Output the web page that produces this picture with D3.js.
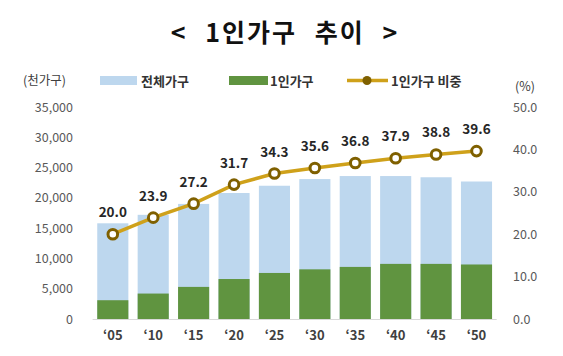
<!DOCTYPE html>
<html><head><meta charset="utf-8">
<script src="https://cdn.jsdelivr.net/npm/d3@7"></script>
<style>body{margin:0;background:#fff}svg{display:block}text{font-family:"Noto Sans CJK KR","Noto Sans",sans-serif}</style>
</head><body><svg id="c" width="563" height="356"></svg>
<script>
const years = ["‘05","‘10","‘15","‘20","‘25","‘30","‘35","‘40","‘45","‘50"];
const totalHouseholds = [15800,17200,19000,20800,22000,23100,23600,23600,23400,22700];
const singleHouseholds = [3100,4200,5300,6600,7600,8200,8600,9100,9100,9000];
const singleShare = [20.0,23.9,27.2,31.7,34.3,35.6,36.8,37.9,38.8,39.6];
const leftTicks = [0,5000,10000,15000,20000,25000,30000,35000];
const rightTicks = [0,10,20,30,40,50];

const svg = d3.select("#c");
const x = d3.scaleBand().domain(years).range([92.6,496.7]).paddingInner(0.23).paddingOuter(0.115);
const yL = d3.scaleLinear().domain([0,35000]).range([319,107]);
const yR = d3.scaleLinear().domain([0,50]).range([319,107]);

// title
svg.append("text").attr("x",285).attr("y",42).attr("text-anchor","middle")
  .attr("font-size",25).attr("font-weight",700).attr("fill","#111")
  .attr("word-spacing",10).attr("letter-spacing",2).text("< 1인가구 추이 >");

// bars
svg.selectAll(".tot").data(years).join("rect")
  .attr("x",d=>x(d)).attr("width",x.bandwidth())
  .attr("y",(d,i)=>yL(totalHouseholds[i])).attr("height",(d,i)=>yL(0)-yL(totalHouseholds[i]))
  .attr("fill","#BDD7EE");
svg.selectAll(".sgl").data(years).join("rect")
  .attr("x",d=>x(d)).attr("width",x.bandwidth())
  .attr("y",(d,i)=>yL(singleHouseholds[i])).attr("height",(d,i)=>yL(0)-yL(singleHouseholds[i]))
  .attr("fill","#609440");

// baseline
svg.append("line").attr("x1",92.6).attr("x2",496.7).attr("y1",yL(0)+0.5).attr("y2",yL(0)+0.5)
  .attr("stroke","#D9D9D9").attr("stroke-width",1);

// left axis
const la = svg.append("g").attr("transform","translate(73,0)")
  .call(d3.axisLeft(yL).tickValues(leftTicks).tickFormat(d3.format(",")).tickSize(0).tickPadding(0));
la.select(".domain").remove();
la.selectAll("text").attr("font-size",12.5).attr("fill","#595959").attr("font-family","'Noto Sans','Open Sans',sans-serif");

// right axis
const ra = svg.append("g").attr("transform","translate(513,0)")
  .call(d3.axisRight(yR).tickValues(rightTicks).tickFormat(d3.format(".1f")).tickSize(0).tickPadding(0));
ra.select(".domain").remove();
ra.selectAll("text").attr("font-size",12.5).attr("fill","#595959").attr("font-family","'Noto Sans','Open Sans',sans-serif");

// x axis
const xa = svg.append("g").attr("transform","translate(0,331)")
  .call(d3.axisBottom(x).tickSize(0).tickPadding(0));
xa.select(".domain").remove();
xa.selectAll("text").attr("font-size",13).attr("font-weight","bold").attr("fill","#404040")
  .attr("font-family","'Noto Sans','Open Sans',sans-serif");

// line
const cx = d=>x(d)+x.bandwidth()/2;
svg.append("path").datum(years)
  .attr("d",d3.line().x(cx).y((d,i)=>yR(singleShare[i])))
  .attr("fill","none").attr("stroke","#CFA11A").attr("stroke-width",3.5);
svg.selectAll(".pt").data(years).join("circle")
  .attr("cx",cx).attr("cy",(d,i)=>yR(singleShare[i])).attr("r",4.8)
  .attr("fill","#fff").attr("stroke","#7F6000").attr("stroke-width",3);
svg.selectAll(".lbl").data(years).join("text")
  .attr("x",cx).attr("y",(d,i)=>yR(singleShare[i])-17).attr("text-anchor","middle")
  .attr("font-size",13.5).attr("font-weight","bold").attr("fill","#262626")
  .attr("font-family","'Noto Sans','Open Sans',sans-serif")
  .text((d,i)=>singleShare[i].toFixed(1));

// legend & unit labels
svg.append("text").attr("x",23).attr("y",85).attr("font-size",12.5).attr("fill","#404040").text("(천가구)");
svg.append("rect").attr("x",100).attr("y",76).attr("width",37).attr("height",9).attr("fill","#BDD7EE");
svg.append("text").attr("x",141).attr("y",85.5).attr("font-size",13).attr("font-weight","bold").attr("fill","#333").text("전체가구");
svg.append("rect").attr("x",229).attr("y",76).attr("width",39).attr("height",9).attr("fill","#609440");
svg.append("text").attr("x",270).attr("y",85.5).attr("font-size",13).attr("font-weight","bold").attr("fill","#333").text("1인가구");
svg.append("line").attr("x1",347).attr("x2",388).attr("y1",80.5).attr("y2",80.5).attr("stroke","#CFA11A").attr("stroke-width",3.5);
svg.append("circle").attr("cx",367).attr("cy",80.5).attr("r",4.5).attr("fill","#7F6000");
svg.append("text").attr("x",391).attr("y",85.5).attr("font-size",13).attr("font-weight","bold").attr("fill","#333").text("1인가구 비중");
svg.append("text").attr("x",515).attr("y",91).attr("font-size",12.5).attr("fill","#404040").attr("font-family","'Noto Sans',sans-serif").text("(%)");
</script></body></html>
